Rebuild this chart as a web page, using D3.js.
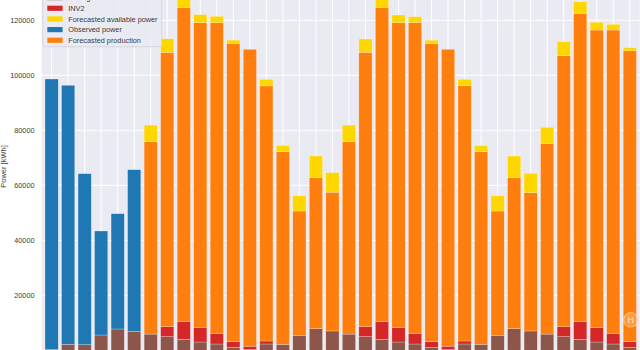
<!DOCTYPE html>
<html>
<head>
<meta charset="utf-8">
<script src="https://cdn.jsdelivr.net/npm/d3@7"></script>
<style>
  html, body { margin: 0; padding: 0; background: #ffffff; }
  svg { display: block; font-family: "Liberation Sans", Arial, sans-serif; }
</style>
</head>
<body>
<svg id="chart" width="640" height="350"></svg>
<script>
// Monthly periods (36 bars)
const periods = ["1","2","3","4","5","6","7","8","9","10","11","12",
  "13","14","15","16","17","18","19","20","21","22","23","24",
  "25","26","27","28","29","30","31","32","33","34","35","36"];

// Stacked components, kWh per period (bottom to top)
const soilingLosses = [300, 2180, 2040, 5560, 7750, 6900,
  5900, 4950, 4000, 3020, 2290, 1090, 300, 2290, 2180, 5450, 7850, 7020,
  5900, 4950, 4000, 3020, 2290, 1090, 300, 2290, 2180, 5450, 7850, 7020,
  5900, 4950, 4000, 3020, 2290, 1090];
const inv2Losses = [0, 0, 0, 0, 0, 0,
  0, 3630, 6400, 5340, 3890, 2040, 1200, 1090, 0, 0, 0, 0,
  0, 3630, 6400, 5340, 3890, 2040, 1200, 1090, 0, 0, 0, 0,
  0, 3630, 6400, 5340, 3890, 2040];
const observedPower = [98350, 94180, 62180, 37820, 41920, 58770,
  0, 0, 0, 0, 0, 0, 0, 0, 0, 0, 0, 0,
  0, 0, 0, 0, 0, 0, 0, 0, 0, 0, 0, 0,
  0, 0, 0, 0, 0, 0];
const forecastProduction = [0, 0, 0, 0, 0, 0,
  69950, 99780, 114330, 110770, 112950, 108470, 107955, 92770, 70040, 45200, 55000, 50480,
  69950, 99780, 114330, 110770, 112950, 108400, 107955, 92840, 70040, 45200, 54900, 50300,
  69370, 98550, 112150, 108110, 110290, 105770];
const forecastAvailableExtra = [0, 0, 0, 0, 0, 0,
  6050, 4940, 4270, 2920, 2310, 1180, 0, 2400, 2250, 5510, 7800, 7100,
  6050, 4840, 4270, 2800, 2180, 1240, 0, 2330, 2180, 5560, 7890, 7050,
  5820, 5090, 4220, 2800, 2070, 1140];

const gridTicks = [0, 20000, 40000, 60000, 80000, 100000, 120000];
const yTickLabels = [20000, 40000, 60000, 80000, 100000, 120000];

const seriesKeys = ["soiling", "inv2", "observed", "production", "available"];
const seriesColors = {
  soiling: "#8c564b",
  inv2: "#d62728",
  observed: "#1f77b4",
  production: "#ff7f0e",
  available: "#ffd700"
};
const legendItems = [
  { key: "soiling", label: "Soiling losses" },
  { key: "inv2", label: "INV2" },
  { key: "available", label: "Forecasted available power" },
  { key: "observed", label: "Observed power" },
  { key: "production", label: "Forecasted production" }
];

const rows = periods.map((p, i) => ({
  period: p,
  soiling: soilingLosses[i],
  inv2: inv2Losses[i],
  observed: observedPower[i],
  production: forecastProduction[i],
  available: forecastAvailableExtra[i]
}));

const svg = d3.select("#chart");
const plot = { left: 41.7, right: 639.7, top: -20, bottom: 370 };

const x = d3.scaleBand().domain(periods)
  .range([plot.left, plot.right]).paddingInner(0.2).paddingOuter(0.2);
const y = d3.scaleLinear().domain([0, 120000]).range([350.3, 20.3]);

// axes background
svg.append("rect")
  .attr("x", plot.left).attr("y", plot.top)
  .attr("width", plot.right - plot.left).attr("height", plot.bottom - plot.top)
  .attr("fill", "#eaeaf2");

// grid
const grid = svg.append("g").attr("stroke", "#ffffff").attr("stroke-width", 1);
grid.selectAll("line.h").data(gridTicks).join("line")
  .attr("class", "h")
  .attr("x1", plot.left).attr("x2", plot.right)
  .attr("y1", d => y(d)).attr("y2", d => y(d));
grid.selectAll("line.v").data(periods).join("line")
  .attr("class", "v")
  .attr("x1", d => x(d) + x.bandwidth() / 2).attr("x2", d => x(d) + x.bandwidth() / 2)
  .attr("y1", plot.top).attr("y2", plot.bottom);

// stacked bars
const stacked = d3.stack().keys(seriesKeys)(rows);
const barsG = svg.append("g");
stacked.forEach(layer => {
  barsG.append("g")
    .attr("fill", seriesColors[layer.key])
    .selectAll("rect")
    .data(layer.filter(d => d[1] > d[0]))
    .join("rect")
    .attr("x", d => x(d.data.period))
    .attr("width", x.bandwidth())
    .attr("y", d => y(d[1]))
    .attr("height", d => y(d[0]) - y(d[1]))
    .attr("stroke", "#ffffff")
    .attr("stroke-width", 0.4)
    .attr("stroke-opacity", 0.6);
});

// y axis tick labels
const yAxis = d3.axisLeft(y).tickValues(yTickLabels).tickSize(0).tickPadding(0)
  .tickFormat(d3.format("d"));
const yAxisG = svg.append("g").attr("transform", "translate(34.5,0)").call(yAxis);
yAxisG.select(".domain").remove();
yAxisG.selectAll("text")
  .attr("fill", "#3a3a3a")
  .style("font-size", "7.3px")
  .style("font-family", "'Liberation Sans', Arial, sans-serif");

// y axis title
svg.append("text")
  .attr("transform", "translate(6,166.5) rotate(-90)")
  .attr("text-anchor", "middle")
  .attr("fill", "#3a3a3a")
  .style("font-size", "7.5px")
  .text("Power [kWh]");

// legend
const legend = svg.append("g");
legend.append("rect")
  .attr("x", 42.7).attr("y", -14).attr("width", 119).attr("height", 60.7)
  .attr("rx", 2).attr("ry", 2)
  .attr("fill", "#eaeaf2").attr("fill-opacity", 0.85)
  .attr("stroke", "#d2d2da").attr("stroke-width", 0.8);
const rowStep = 10.67;
const legendRows = legend.selectAll("g.item").data(legendItems).join("g")
  .attr("class", "item")
  .attr("transform", (d, i) => `translate(0,${-2.4 + i * rowStep})`);
legendRows.append("rect")
  .attr("x", 47.3).attr("y", -2.6).attr("width", 15.3).attr("height", 5.2)
  .attr("fill", d => seriesColors[d.key]);
legendRows.append("text")
  .attr("x", 68.3).attr("y", 2.6)
  .attr("fill", "#3a3a3a")
  .style("font-size", "7.3px")
  .text(d => d.label);

// small round badge at the lower right
const badge = svg.append("g").attr("transform", "translate(630.8,319.8)");
badge.append("circle").attr("r", 7.2)
  .attr("fill", "#ffb766").attr("fill-opacity", 0.55)
  .attr("stroke", "#ffe2bf").attr("stroke-opacity", 0.8).attr("stroke-width", 0.8);
badge.append("text").attr("text-anchor", "middle").attr("y", 3)
  .attr("fill", "#fff1de").attr("fill-opacity", 0.9)
  .style("font-size", "8.5px").text("H");
</script>
</body>
</html>
